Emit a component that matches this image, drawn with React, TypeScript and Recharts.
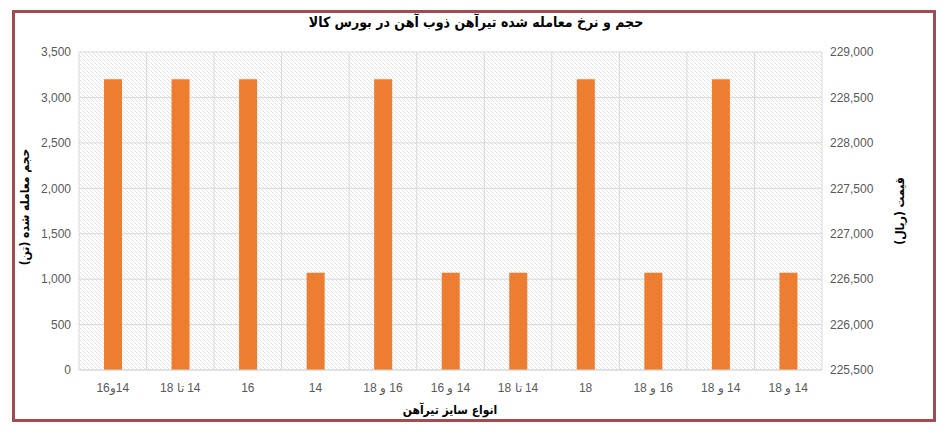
import React from 'react';
import { BarChart, Bar, XAxis, YAxis, CartesianGrid } from 'recharts';

// size labels (logical order, rendered rtl)
const sizes = [
  '14و16',
  '14 تا 18',
  '16',
  '14',
  '16 و 18',
  '14 و 16',
  '14 تا 18',
  '18',
  '16 و 18',
  '14 و 18',
  '14 و 18',
];
const volumes = [3200, 3200, 3200, 1070, 3200, 1070, 1070, 3200, 1070, 3200, 1070];

const volumeTicks = [0, 500, 1000, 1500, 2000, 2500, 3000, 3500];
const priceTicks = [225500, 226000, 226500, 227000, 227500, 228000, 228500, 229000];

const title = 'حجم و نرخ معامله شده تیرآهن ذوب آهن در بورس کالا';
const leftLabel = 'حجم معامله شده (تن)';
const rightLabel = 'قیمت (ریال)';
const xLabel = 'انواع سایز تیرآهن';

const data = sizes.map((s, i) => ({ idx: i, size: s, volume: volumes[i] }));

const fmt = (v: number) => v.toLocaleString('en-US');
const arabicFont = '"DejaVu Sans Condensed", "DejaVu Sans", sans-serif';
const numFont = '"Liberation Sans", Arial, sans-serif';

const SizeTick = (props: any) => {
  const { x, y, payload } = props;
  return (
    <text x={x} y={y + 14} textAnchor="middle" direction="rtl" fill="#595959" fontSize={12} fontFamily={numFont}>
      {sizes[payload.value]}
    </text>
  );
};

const App: React.FC = () => {
  const nCat = sizes.length;
  return (
    <div style={{ position: 'absolute', left: 0, top: 0, width: 951, height: 436, background: '#fff' }}>
      <div
        style={{
          position: 'absolute',
          left: 12,
          top: 10,
          width: 918,
          height: 406,
          border: '3px solid #a24c52',
        }}
      />
      <BarChart
        width={951}
        height={436}
        data={data}
        margin={{ top: 52, right: 59, bottom: 36, left: 19 }}
        barSize={18}
        style={{ position: 'absolute', left: 0, top: 0 }}
      >
        <defs>
          <pattern id="hatch" patternUnits="userSpaceOnUse" width="4" height="4">
            <path d="M-1,-1 L1,1 M0,0 L4,4 M3,3 L5,5" stroke="#dddddd" strokeWidth={0.7} />
          </pattern>
        </defs>
        <CartesianGrid
          yAxisId="left"
          stroke="#d9d9d9"
          fill="url(#hatch)"
          fillOpacity={1}
          verticalCoordinatesGenerator={({ offset }: any) =>
            Array.from({ length: nCat + 1 }, (_, i) => offset.left + (i * offset.width) / nCat)
          }
        />
        <XAxis
          dataKey="idx"
          type="category"
          height={30}
          tick={<SizeTick />}
          tickLine={false}
          axisLine={{ stroke: '#d9d9d9' }}
          interval={0}
        />
        <YAxis
          yAxisId="left"
          width={60}
          domain={[0, 3500]}
          ticks={volumeTicks}
          tickFormatter={fmt}
          axisLine={false}
          tickLine={false}
          tick={{ fill: '#595959', fontSize: 12, fontFamily: numFont }}
        />
        <YAxis
          yAxisId="right"
          orientation="right"
          width={70}
          domain={[225500, 229000]}
          ticks={priceTicks}
          tickFormatter={fmt}
          axisLine={false}
          tickLine={false}
          allowDataOverflow
          tick={{ fill: '#595959', fontSize: 12, fontFamily: numFont }}
        />
        <Bar yAxisId="left" dataKey="volume" fill="#ed7d31" isAnimationActive={false} />
        <text x={476} y={27} textAnchor="middle" direction="rtl" fontSize={14} fontWeight="bold" fontFamily={arabicFont} fill="#000">
          {title}
        </text>
        <text
          x={0}
          y={0}
          transform="translate(29,207) rotate(-90)"
          textAnchor="middle"
          direction="rtl"
          fontSize={12}
          fontWeight="bold"
          fontFamily={arabicFont}
          fill="#000"
        >
          {leftLabel}
        </text>
        <text
          x={0}
          y={0}
          transform="translate(904,211) rotate(-90)"
          textAnchor="middle"
          direction="rtl"
          fontSize={12}
          fontWeight="bold"
          fontFamily={arabicFont}
          fill="#000"
        >
          {rightLabel}
        </text>
        <text x={450} y={414} textAnchor="middle" direction="rtl" fontSize={12} fontWeight="bold" fontFamily={arabicFont} fill="#000">
          {xLabel}
        </text>
      </BarChart>
    </div>
  );
};

export default App;
